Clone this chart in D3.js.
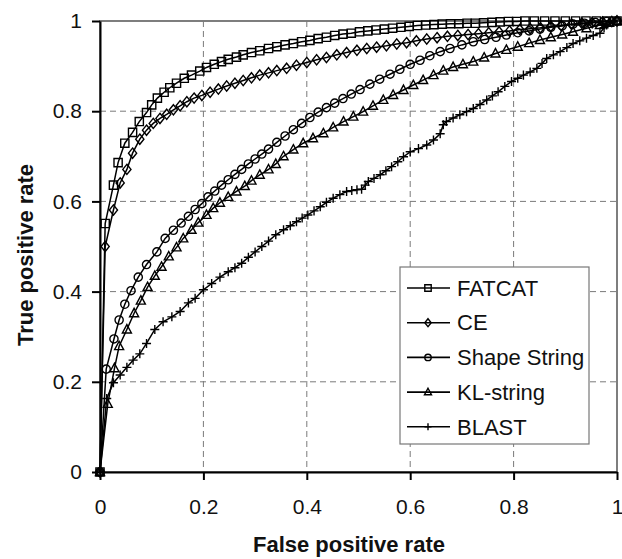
<!DOCTYPE html>
<meta charset="utf-8">
<style>
 body { margin: 0; background: #fff; }
 svg { display: block; font-family: "Liberation Sans", Arial, sans-serif; }
 .axis path, .axis line { fill: none; stroke: #000; stroke-width: 2; }
 .axis text { font-size: 21px; fill: #111; }
 .grid line { stroke: #7a7a7a; stroke-width: 1; stroke-dasharray: 6,4; }
 .axis-label { font-size: 22px; font-weight: bold; fill: #111; }
 .curve { fill: none; stroke: #000; stroke-width: 1.5; }
 .mark { fill: none; stroke: #000; stroke-width: 1.4; }
 .legend text { font-size: 22px; fill: #111; }
</style>
<body>
<svg width="622" height="559"></svg>
<script src="https://d3js.org/d3.v7.min.js"></script>
<script>

 // values, [false positive rate, true positive rate]
 var fatcat = [[0,0],[0.010,0.551],[0.026,0.636],[0.035,0.686],[0.048,0.729],[0.063,0.753],[0.076,0.777],[0.090,0.797],
   [0.100,0.814],[0.111,0.829],[0.124,0.842],[0.135,0.852],[0.148,0.862],[0.163,0.873],[0.177,0.880],[0.193,0.889],
   [0.206,0.897],[0.221,0.904],[0.235,0.910],[0.248,0.915],[0.264,0.920],[0.277,0.925],[0.293,0.930],[0.309,0.934],
   [0.326,0.939],[0.342,0.943],[0.358,0.947],[0.374,0.950],[0.390,0.954],[0.406,0.957],[0.422,0.961],[0.438,0.964],
   [0.454,0.968],[0.470,0.971],[0.486,0.973],[0.502,0.976],[0.518,0.978],[0.534,0.980],[0.550,0.982],[0.566,0.984],
   [0.582,0.986],[0.598,0.988],[0.614,0.990],[0.630,0.991],[0.646,0.992],[0.662,0.993],[0.678,0.994],[0.694,0.994],
   [0.710,0.995],[0.726,0.995],[0.742,0.996],[0.758,0.997],[0.774,0.998],[0.790,0.999],[0.806,0.999],[0.822,1],
   [0.840,1],[0.860,1],[0.880,1],[0.900,1],[0.920,1],[0.940,1],[0.960,1],[0.980,1],[1,1]];

 var ce = [[0,0],[0.010,0.500],[0.026,0.581],[0.039,0.641],[0.052,0.671],[0.063,0.707],[0.077,0.738],[0.090,0.758],
   [0.103,0.773],[0.116,0.784],[0.129,0.793],[0.142,0.803],[0.155,0.812],[0.168,0.821],[0.182,0.829],[0.197,0.835],
   [0.213,0.842],[0.229,0.849],[0.245,0.856],[0.261,0.862],[0.277,0.868],[0.293,0.874],[0.309,0.880],[0.326,0.885],
   [0.342,0.890],[0.361,0.895],[0.380,0.902],[0.400,0.908],[0.419,0.914],[0.438,0.919],[0.458,0.925],[0.477,0.930],
   [0.497,0.935],[0.516,0.939],[0.535,0.942],[0.554,0.945],[0.574,0.949],[0.593,0.952],[0.612,0.956],[0.632,0.960],
   [0.652,0.963],[0.672,0.966],[0.692,0.968],[0.712,0.970],[0.732,0.972],[0.752,0.974],[0.772,0.976],[0.792,0.978],
   [0.812,0.981],[0.832,0.983],[0.852,0.985],[0.872,0.988],[0.892,0.990],[0.912,0.993],[0.932,0.995],[0.952,0.996],
   [0.972,0.998],[0.990,0.999],[1,1]];

 var shapeString = [[0,0],[0.012,0.228],[0.027,0.295],[0.037,0.337],[0.048,0.372],[0.060,0.402],[0.074,0.432],[0.090,0.460],
   [0.110,0.488],[0.126,0.518],[0.142,0.536],[0.157,0.552],[0.171,0.567],[0.184,0.582],[0.197,0.595],[0.209,0.610],
   [0.222,0.623],[0.235,0.636],[0.248,0.648],[0.261,0.660],[0.274,0.671],[0.287,0.683],[0.300,0.694],[0.313,0.705],
   [0.326,0.716],[0.342,0.731],[0.358,0.745],[0.374,0.759],[0.390,0.773],[0.406,0.786],[0.422,0.798],[0.438,0.808],
   [0.454,0.818],[0.470,0.828],[0.486,0.838],[0.503,0.848],[0.522,0.860],[0.541,0.871],[0.561,0.882],[0.580,0.893],
   [0.600,0.904],[0.619,0.913],[0.638,0.923],[0.658,0.932],[0.677,0.939],[0.700,0.947],[0.722,0.954],[0.744,0.959],
   [0.766,0.964],[0.786,0.969],[0.808,0.974],[0.830,0.978],[0.851,0.982],[0.872,0.986],[0.894,0.989],[0.915,0.993],
   [0.937,0.995],[0.958,0.997],[0.980,0.999],[1,1]];

 var klString = [[0,0],[0.015,0.151],[0.028,0.230],[0.037,0.279],[0.052,0.316],[0.066,0.352],[0.079,0.380],[0.092,0.410],
   [0.106,0.435],[0.119,0.455],[0.133,0.478],[0.148,0.498],[0.161,0.518],[0.177,0.537],[0.190,0.553],[0.206,0.570],
   [0.219,0.585],[0.232,0.597],[0.248,0.610],[0.264,0.622],[0.280,0.634],[0.293,0.646],[0.309,0.659],[0.326,0.671],
   [0.340,0.683],[0.355,0.700],[0.374,0.715],[0.393,0.729],[0.412,0.740],[0.432,0.751],[0.451,0.764],[0.471,0.777],
   [0.490,0.788],[0.509,0.799],[0.528,0.812],[0.548,0.825],[0.567,0.836],[0.587,0.847],[0.606,0.858],[0.625,0.869],
   [0.645,0.880],[0.664,0.890],[0.683,0.898],[0.702,0.904],[0.722,0.910],[0.743,0.919],[0.765,0.928],[0.786,0.936],
   [0.808,0.943],[0.830,0.951],[0.851,0.958],[0.872,0.964],[0.894,0.970],[0.915,0.976],[0.941,0.984],[0.967,0.991],
   [0.985,0.996],[1,1]];

 var blast = [[0,0],[0.013,0.163],[0.026,0.198],[0.039,0.215],[0.052,0.232],[0.064,0.248],[0.077,0.262],[0.090,0.285],
   [0.106,0.316],[0.122,0.333],[0.139,0.344],[0.155,0.356],[0.171,0.375],[0.184,0.385],[0.200,0.404],[0.216,0.418],
   [0.232,0.432],[0.248,0.444],[0.261,0.453],[0.274,0.463],[0.287,0.476],[0.300,0.488],[0.313,0.500],[0.326,0.512],
   [0.340,0.526],[0.355,0.537],[0.368,0.546],[0.380,0.555],[0.391,0.563],[0.402,0.570],[0.414,0.579],[0.426,0.588],
   [0.438,0.598],[0.451,0.607],[0.464,0.615],[0.477,0.622],[0.487,0.624],[0.497,0.626],[0.506,0.627],[0.513,0.636],
   [0.519,0.644],[0.530,0.651],[0.542,0.659],[0.553,0.668],[0.564,0.677],[0.576,0.688],[0.587,0.699],[0.600,0.710],
   [0.616,0.717],[0.632,0.725],[0.645,0.736],[0.658,0.750],[0.664,0.770],[0.670,0.777],[0.683,0.785],[0.696,0.792],
   [0.709,0.799],[0.722,0.806],[0.735,0.815],[0.748,0.825],[0.759,0.834],[0.770,0.843],[0.783,0.855],[0.796,0.866],
   [0.808,0.873],[0.819,0.880],[0.832,0.887],[0.845,0.895],[0.855,0.906],[0.864,0.917],[0.877,0.925],[0.890,0.932],
   [0.903,0.941],[0.915,0.950],[0.928,0.956],[0.941,0.962],[0.954,0.968],[0.967,0.973],[0.975,0.985],[0.980,0.991],[1,1]];

 var seriesNames = ["FATCAT", "CE", "Shape String", "KL-string", "BLAST"];
 var seriesData = [fatcat, ce, shapeString, klString, blast];
 var seriesMarkers = ["square", "diamond", "circle", "triangle", "plus"];

 var tickValues = [0, 0.2, 0.4, 0.6, 0.8, 1];
 var tickLabels = ["0", "0.2", "0.4", "0.6", "0.8", "1"];

 var svg = d3.select("svg"),
     margin = {top: 21, right: 5, bottom: 87, left: 100},
     width = svg.attr("width") - margin.left - margin.right,
     height = svg.attr("height") - margin.top - margin.bottom;

 var x = d3.scaleLinear().domain([0, 1]).range([0, width]);
 var y = d3.scaleLinear().domain([0, 1]).range([height, 0]);

 var g = svg.append("g")
     .attr("transform", "translate(" + margin.left + "," + margin.top + ")");

 // plot frame
 g.append("rect")
  .attr("width", width)
  .attr("height", height)
  .style("fill", "none")
  .style("stroke", "#5e5e5e")
  .style("stroke-width", 1.6);

 // dashed grid
 var grid = g.append("g").attr("class", "grid");
 grid.selectAll(".vx").data(tickValues.slice(1, -1)).enter().append("line")
     .attr("x1", d => x(d)).attr("x2", d => x(d))
     .attr("y1", 0).attr("y2", height);
 grid.selectAll(".hy").data(tickValues.slice(1, -1)).enter().append("line")
     .attr("y1", d => y(d)).attr("y2", d => y(d))
     .attr("x1", 0).attr("x2", width);

 g.append("g")
  .attr("class", "axis")
  .attr("transform", "translate(0," + height + ")")
  .call(d3.axisBottom(x).tickValues(tickValues).tickFormat((d, i) => tickLabels[i])
        .tickSize(8).tickSizeOuter(0).tickPadding(19));

 g.append("g")
  .attr("class", "axis")
  .call(d3.axisLeft(y).tickValues(tickValues).tickFormat((d, i) => tickLabels[i])
        .tickSize(8).tickSizeOuter(0).tickPadding(10));

 g.selectAll(".axis text").style("font-family", "Liberation Sans, Arial, sans-serif");

 svg.append("text")
    .attr("class", "axis-label")
    .attr("text-anchor", "middle")
    .attr("x", 349)
    .attr("y", 552)
    .text("False positive rate");

 svg.append("text")
    .attr("class", "axis-label")
    .attr("text-anchor", "middle")
    .attr("transform", "translate(33,255) rotate(-90)")
    .text("True positive rate");

 function marker(type, r) {
     if (type == "square") return `M${-r},${-r}H${r}V${r}H${-r}Z`;
     if (type == "diamond") return `M0,${-r*1.25}L${r},0L0,${r*1.25}L${-r},0Z`;
     if (type == "circle") return `M${r},0A${r},${r} 0 1,1 ${-r},0A${r},${r} 0 1,1 ${r},0Z`;
     if (type == "triangle") return `M0,${-r*1.2}L${r*1.1},${r*0.85}L${-r*1.1},${r*0.85}Z`;
     return `M${-r*1.1},0H${r*1.1}M0,${-r*1.1}V${r*1.1}`;
 }

 var line = d3.line().x(d => x(d[0])).y(d => y(d[1]));

 seriesData.forEach(function(data, i) {
     var s = g.append("g").attr("class", "series");
     s.append("path").attr("class", "curve").attr("d", line(data));
     s.selectAll("path.mark").data(data).enter().append("path")
      .attr("class", "mark")
      .attr("transform", d => "translate(" + x(d[0]) + "," + y(d[1]) + ")")
      .attr("d", marker(seriesMarkers[i], 4.1));
 });

 // legend
 var legend = svg.append("g").attr("class", "legend")
     .attr("transform", "translate(400,267)");
 legend.append("rect")
       .attr("width", 189).attr("height", 177)
       .style("fill", "#fff").style("stroke", "#777").style("stroke-width", 1.2);
 seriesNames.forEach(function(name, i) {
     var row = legend.append("g").attr("transform", "translate(0," + (21 + i * 34.7) + ")");
     row.append("line").attr("x1", 7).attr("x2", 50)
        .style("stroke", "#000").style("stroke-width", 1.6);
     row.append("path").attr("class", "mark")
        .attr("transform", "translate(28,0)")
        .attr("d", marker(seriesMarkers[i], 3.2));
     row.append("text").attr("x", 57).attr("dy", "0.35em").text(name);
 });

</script>
</body>
